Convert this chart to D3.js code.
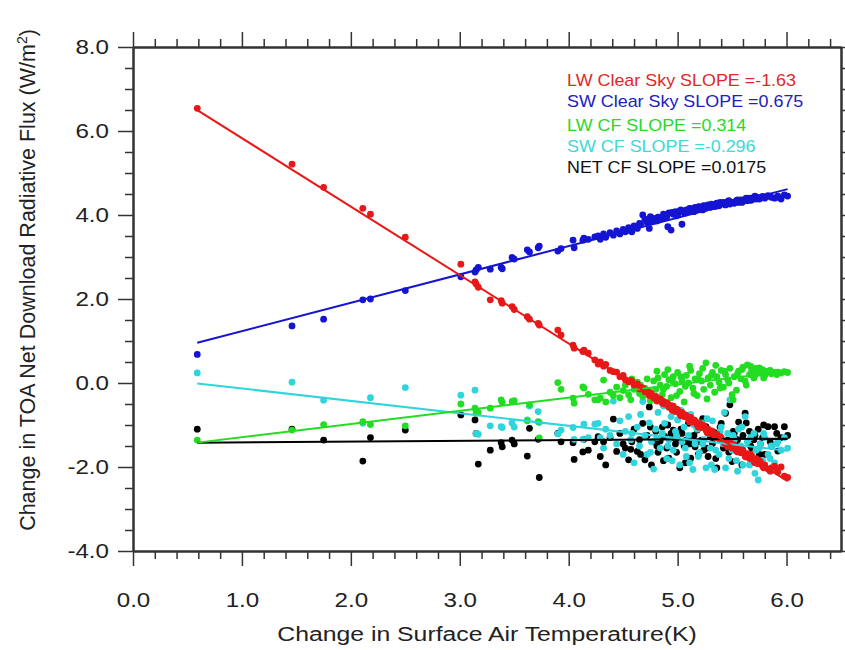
<!DOCTYPE html>
<html><head><meta charset="utf-8">
<script src="https://cdn.jsdelivr.net/npm/d3@7"></script>
<style>
body{margin:0;background:#fff}
svg{display:block}
text{font-family:"Liberation Sans",Arial,Helvetica,sans-serif}
</style>
</head><body>
<svg id="c" width="845" height="650"></svg>
<script>
// ---- data ----
const temp = [
0.59,1.46,1.75,2.11,2.18,2.50,3.01,3.14,3.15,3.17,3.28,3.38,3.39,3.48,3.50,3.62,3.64,3.72,3.73,3.90,3.93,4.04,4.05,4.13,4.14,4.18,4.24,
4.27,4.29,4.32,4.34,4.38,4.41,4.44,4.47,4.50,4.52,4.55,4.57,4.60,4.63,4.65,4.68,4.70,4.72,4.74,4.76,4.78,4.80,4.82,4.84,4.86,4.88,4.90,4.92,4.94,4.96,4.98,5.00,5.02,5.04,5.06,5.08,5.10,5.12,5.14,5.16,5.18,5.20,5.22,5.24,5.26,5.28,5.30,5.32,5.34,5.36,5.38,5.40,5.42,5.44,5.46,5.48,5.50,5.52,5.54,5.56,5.58,5.60,5.62,5.64,5.66,5.68,5.70,5.72,5.74,5.76,5.78,5.80,5.83,5.86,5.89,5.92,5.95,5.98,6.01,
4.58,4.66,4.75,4.81,4.87,4.91,4.95,4.99,5.03,5.07,5.11,5.15,5.19,5.23,5.27,5.31,5.35,5.39,5.43,5.47,5.51,5.55,5.59,5.63,5.67,5.71,5.75,5.79,5.85,5.91];

const lwClear = [
6.54,5.21,4.66,4.16,4.02,3.47,2.83,2.41,2.36,2.28,1.98,1.96,1.90,1.82,1.75,1.58,1.52,1.42,1.38,1.26,1.14,0.90,0.83,0.75,0.78,0.71,0.55,
0.45,0.50,0.40,0.44,0.30,0.27,0.26,0.15,0.18,0.08,0.03,0.06,-0.05,-0.02,-0.14,-0.12,-0.21,-0.18,-0.30,-0.26,-0.35,-0.32,-0.40,-0.38,-0.48,-0.50,-0.47,-0.58,-0.54,-0.55,-0.68,-0.64,-0.74,-0.70,-0.80,-0.78,-0.88,-0.82,-0.93,-0.90,-1.00,-0.95,-1.06,-1.02,-1.12,-1.10,-1.20,-1.15,-1.27,-1.22,-1.33,-1.30,-1.38,-1.45,-1.52,-1.40,-1.55,-1.48,-1.62,-1.58,-1.66,-1.60,-1.75,-1.68,-1.80,-1.74,-1.86,-1.80,-1.92,-1.88,-1.98,-1.95,-2.05,-2.02,-1.98,-2.12,-2.00,-2.22,-2.25,
0.04,-0.10,-0.24,-0.43,-0.44,-0.50,-0.65,-0.62,-0.78,-0.76,-0.92,-0.88,-1.05,-1.00,-1.18,-1.14,-1.30,-1.28,-1.44,-1.52,-1.46,-1.64,-1.58,-1.76,-1.70,-1.90,-1.85,-2.02,-2.10,-2.05];

const swClear = [
0.68,1.36,1.52,1.98,2.00,2.20,2.53,2.64,2.69,2.75,2.71,2.75,2.72,2.99,2.95,3.17,3.12,3.22,3.26,3.14,3.20,3.40,3.22,3.40,3.45,3.42,3.48,
3.50,3.42,3.55,3.47,3.58,3.52,3.62,3.55,3.66,3.60,3.70,3.62,3.74,3.68,3.80,4.00,3.90,3.82,3.68,3.85,3.92,3.88,3.95,3.90,3.92,4.00,3.95,4.05,3.64,4.02,4.08,4.00,4.10,3.78,4.05,4.12,4.08,4.15,4.10,4.18,4.12,4.20,4.14,4.22,4.16,4.24,4.18,4.25,4.20,4.28,4.22,4.26,4.30,4.24,4.32,4.26,4.30,4.28,4.34,4.30,4.36,4.32,4.38,4.34,4.40,4.36,4.42,4.38,4.42,4.40,4.44,4.40,4.46,4.42,4.40,4.45,4.38,4.48,4.45,
3.60,3.78,3.96,3.86,4.02,3.72,4.06,3.98,4.12,4.05,4.16,4.08,4.19,4.12,4.22,4.26,4.21,4.30,4.26,4.34,4.30,4.36,4.30,4.40,4.35,4.45,4.38,4.43,4.44,4.42];

const lwCF = [
-1.36,-1.12,-0.99,-0.92,-0.99,-1.02,-0.50,-0.60,-0.72,-0.70,-0.60,-0.40,-0.46,-0.44,-0.42,-0.90,-0.52,-0.92,-1.31,0.01,-0.15,-0.36,-0.48,-0.09,-0.12,-0.27,-0.40,
-0.40,-0.36,0.07,-0.45,-0.22,-0.30,-0.10,-0.35,-0.18,-0.05,-0.28,-0.40,-0.15,0.02,-0.25,-0.32,-0.12,0.10,-0.20,-0.38,0.05,-0.15,0.12,-0.05,-0.28,0.20,-0.08,0.08,-0.35,0.15,-0.02,0.25,-0.20,0.05,-0.45,0.18,0.00,0.30,-0.12,0.10,-0.30,0.22,0.05,-0.15,0.48,0.12,-0.05,0.25,-0.22,0.15,0.02,0.30,-0.10,0.20,0.08,0.35,-0.28,0.15,-0.17,0.28,0.10,0.38,0.05,0.43,0.20,0.30,0.12,0.35,0.25,0.23,0.32,0.18,0.28,0.22,0.25,0.26,0.24,0.27,0.25,
0.10,-0.05,-0.42,0.28,-0.15,0.32,0.05,-0.30,0.15,-0.08,0.40,-0.25,0.08,0.35,-0.38,0.18,0.42,-0.12,0.28,0.00,-0.40,0.22,0.32,-0.05,0.40,0.18,0.36,0.12,0.30,0.20];

const swCF = [
0.24,0.02,-0.41,-0.96,-0.35,-0.11,-0.29,-0.17,-1.20,-1.22,-1.02,-1.04,-1.06,-0.95,-1.05,-0.88,-0.55,-0.68,-0.94,-1.21,-1.12,-1.06,-1.34,-1.34,-0.98,-1.30,-0.98,
-0.96,-1.30,-1.55,-1.10,-1.25,-0.43,-1.45,-0.90,-1.70,-1.15,-0.80,-1.35,-1.90,-1.05,-1.50,-0.44,-1.25,-1.70,-0.95,-1.40,-2.05,-1.10,-0.70,-1.55,-1.20,-0.96,-1.80,-1.35,-0.80,-1.60,-1.15,-0.88,-1.95,-1.40,-1.05,-1.75,-1.25,-0.75,-2.06,-1.45,-1.10,-1.65,-0.95,-1.35,-2.02,-1.20,-1.55,-0.90,-2.06,-1.30,-1.70,-1.05,-1.45,-2.02,-1.20,-0.40,-1.60,-1.35,-1.85,-1.10,-1.50,-1.95,-0.80,-1.40,-1.95,-1.75,-1.20,-1.60,-2.31,-1.45,-1.85,-1.30,-1.70,-1.50,-1.90,-1.40,-1.60,-1.30,-1.55,
-1.20,-0.75,-1.65,-1.30,-0.55,-1.50,-1.85,-1.25,-0.65,-1.55,-1.90,-1.00,-1.75,-1.45,-0.85,-1.95,-1.60,-1.15,-0.70,-1.80,-1.25,-2.10,-1.05,-1.70,-1.30,-2.15,-1.55,-1.20,-1.80,-1.45];

const netCF = [
-1.10,-1.10,-1.36,-1.86,-1.30,-1.12,-0.76,-0.88,-1.20,-1.93,-1.60,-1.42,-1.52,-1.36,-1.45,-1.74,-1.08,-1.34,-2.25,-1.20,-1.40,-1.42,-1.82,-1.64,-1.34,-1.60,-1.40,
-1.28,-1.75,-1.40,-1.95,-1.30,-0.86,-1.63,-1.20,-1.45,-1.55,-1.83,-1.58,-1.10,-1.63,-1.35,-0.96,-1.83,-1.25,-0.57,-1.95,-1.40,-1.15,-1.65,-1.38,-1.05,-1.27,-1.55,-1.79,-1.20,-1.12,-1.45,-1.36,-2.02,-1.20,-1.50,-1.36,-0.96,-1.79,-1.30,-1.52,-1.12,-1.40,-1.36,-1.60,-1.04,-1.75,-1.28,-1.44,-1.18,-2.02,-1.30,-0.96,-1.55,-0.72,-1.36,-0.52,-1.87,-1.20,-1.45,-0.93,-1.63,-1.25,-0.72,-1.75,-1.15,-1.55,-1.35,-1.90,-1.10,-1.45,-1.30,-1.70,-1.04,-1.50,-1.04,-1.62,-1.30,-1.04,-1.25,
-1.40,-1.70,-1.05,-1.50,-1.85,-1.00,-1.30,-1.65,-1.10,-1.90,-1.45,-1.25,-1.70,-0.85,-1.55,-1.20,-1.80,-1.05,-1.40,-1.65,-1.15,-1.35,-1.95,-0.95,-1.50,-1.25,-1.70,-1.00,-1.40,-1.20];

const seriesNames = ["LW Clear Sky", "SW Clear Sky", "LW CF", "SW CF", "NET CF"];
const slopeLabels = ["-1.63", "0.675", "0.314", "-0.296", "0.0175"];
const slopes = [-1.63, 0.675, 0.314, -0.296, 0.0175];
const intercepts = [7.46, 0.56, -1.605, 0.165, -1.43];
const xTicks = [0, 1, 2, 3, 4, 5, 6];
const yTicks = [-4, -2, 0, 2, 4, 6, 8];
const xTitle = "Change in Surface Air Temperature(K)";
const yTitle = "Change in TOA Net Download Radiative Flux (W/m";

// ---- styles ----
const dotColors  = ["#e81818", "#1414d2", "#22dd22", "#2fd5dc", "#000000"];
const textColors = ["#e02828", "#2020c0", "#28d828", "#40d8d8", "#111111"];
const SX = 1.15;   // horizontal stretch of the reference's lettering

const series = [lwClear, swClear, lwCF, swCF, netCF];

const svg = d3.select("#c");
const L = 133, R = 841, T = 47, B = 551;
const x = d3.scaleLinear().domain([0, 6.5]).range([L, R]);
const y = d3.scaleLinear().domain([-4, 8]).range([B, T]);

const xMinor = d3.range(0, 6.5001, 0.2).filter(v => Math.abs(v - Math.round(v)) > 1e-6);
const yMinor = d3.range(-4, 8.001, 0.5).filter(v => Math.abs(v/2 - Math.round(v/2)) > 1e-6);

function styleAxis(g){
  g.select(".domain").attr("stroke", "#333").attr("stroke-width", 2);
  g.selectAll(".tick line").attr("stroke", "#333").attr("stroke-width", 1.5);
}

[[d3.axisBottom(x), B], [d3.axisTop(x), T]].forEach(([ax, ty]) => {
  svg.append("g").attr("transform", `translate(0,${ty})`)
    .call(ax.tickValues(xMinor).tickSize(8).tickSizeOuter(0).tickFormat(""))
    .call(styleAxis);
});
[[d3.axisLeft(y), L], [d3.axisRight(y), R]].forEach(([ax, tx]) => {
  svg.append("g").attr("transform", `translate(${tx},0)`)
    .call(ax.tickValues(yMinor).tickSize(8).tickSizeOuter(0).tickFormat(""))
    .call(styleAxis);
});

const fmt = d => d.toFixed(1);
const gx = svg.append("g").attr("transform", `translate(0,${B})`)
  .call(d3.axisBottom(x).tickValues(xTicks).tickSize(15).tickSizeOuter(0).tickPadding(26).tickFormat(fmt))
  .call(styleAxis);
svg.append("g").attr("transform", `translate(0,${T})`)
  .call(d3.axisTop(x).tickValues(xTicks).tickSize(15).tickSizeOuter(0).tickFormat(""))
  .call(styleAxis);
const gy = svg.append("g").attr("transform", `translate(${L},0)`)
  .call(d3.axisLeft(y).tickValues(yTicks).tickSize(15).tickSizeOuter(0).tickPadding(8).tickFormat(fmt))
  .call(styleAxis);
svg.append("g").attr("transform", `translate(${R},0)`)
  .call(d3.axisRight(y).tickValues(yTicks).tickSize(15).tickSizeOuter(0).tickFormat(""))
  .call(styleAxis);

gx.selectAll(".tick text")
  .attr("font-family", "'Liberation Sans', Arial, sans-serif")
  .attr("font-size", 21).attr("fill", "#222")
  .attr("transform", `scale(${SX},1)`);
gy.selectAll(".tick text")
  .attr("font-family", "'Liberation Sans', Arial, sans-serif")
  .attr("font-size", 21).attr("fill", "#222")
  .attr("x", -24 / SX)
  .attr("transform", `scale(${SX},1)`);

// points
const drawOrder = [4, 3, 2, 1, 0];
drawOrder.forEach(si => {
  svg.append("g").selectAll("circle")
    .data(temp.map((t, i) => [t, series[si][i]]))
    .join("circle")
    .attr("cx", d => x(d[0])).attr("cy", d => y(d[1])).attr("r", 3.4)
    .attr("fill", dotColors[si]);
});

// regression lines
const xMin = d3.min(temp), xMax = d3.max(temp);
const line = d3.line().x(d => x(d[0])).y(d => y(d[1]));
drawOrder.forEach(si => {
  const pts = [xMin, xMax].map(t => [t, intercepts[si] + slopes[si] * t]);
  svg.append("path").attr("d", line(pts)).attr("fill", "none")
    .attr("stroke", dotColors[si]).attr("stroke-width", 2);
});

// legend text
const legendY = [86, 107, 131, 152, 173];
seriesNames.forEach((n, i) => {
  svg.append("text").attr("transform", `translate(567,${legendY[i]}) scale(1.12,1)`)
    .attr("font-size", 16).attr("fill", textColors[i])
    .text(`${n} SLOPE =${slopeLabels[i]}`);
});

// axis titles
svg.append("text").attr("transform", `translate(${(L + R) / 2},641) scale(1.18,1)`)
  .attr("text-anchor", "middle").attr("font-size", 21).attr("fill", "#222")
  .text(xTitle);
const yt = svg.append("text").attr("transform", "translate(35,280) rotate(-90)")
  .attr("text-anchor", "middle").attr("font-size", 21.5).attr("fill", "#222");
yt.append("tspan").text(yTitle);
yt.append("tspan").attr("font-size", 14).attr("dy", -8).text("2");
yt.append("tspan").attr("dy", 8).text(")");
</script>
</body></html>
